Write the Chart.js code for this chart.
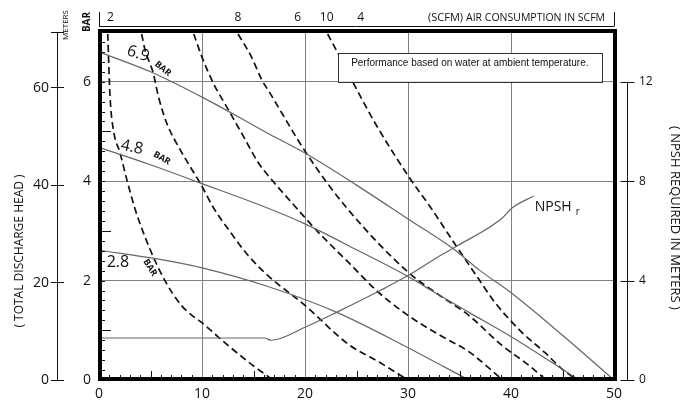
<!DOCTYPE html>
<html>
<head>
<meta charset="utf-8">
<script src="https://cdn.jsdelivr.net/npm/chart.js@4.4.0/dist/chart.umd.min.js"></script>
<style>
  html, body { margin: 0; padding: 0; background: #fff; }
  canvas { display: block; }
</style>
</head>
<body>
<canvas id="pump-chart" width="694" height="403"></canvas>
<script>
// axis ticks
var flowTicks = [0, 10, 20, 30, 40, 50];
var barTicks = [0, 2, 4, 6];
var meterTicks = [0, 20, 40, 60];
var npshTicks = [0, 4, 8, 12];

// air consumption labels along the top, at these flow values
var airLabels = ["2", "8", "6", "10", "4"];
var airLabelFlow = [1.1, 13.5, 19.3, 22.1, 25.4];

// head curves (bar) at 6.9 / 4.8 / 2.8 bar inlet air
var head69X = [0, 5, 10.1, 16.6, 20.2, 25, 30, 34.4, 37, 40.1, 45, 50];
var head69Y = [6.6, 6.2, 5.68, 4.94, 4.54, 3.92, 3.24, 2.64, 2.2, 1.74, 0.9, 0];
var head48X = [0, 5, 9.6, 16.6, 20, 25, 30, 32.6, 36, 40.1, 46.6];
var head48Y = [4.68, 4.33, 3.98, 3.44, 3.14, 2.62, 2.08, 1.76, 1.35, 0.86, 0];
var head28X = [0, 5.8, 10.1, 16.4, 23.2, 30, 35.9];
var head28Y = [2.61, 2.43, 2.25, 1.88, 1.35, 0.65, 0];

// NPSH required (m)
var npshX = [0, 16.1, 16.7, 20, 23.2, 27.3, 30, 33.1, 34.8, 39.1, 40.1, 42.2];
var npshY = [1.69, 1.69, 1.6, 2.12, 2.75, 3.6, 4.2, 5.0, 5.4, 6.5, 6.92, 7.4];

// air consumption curves (dashed)
var airAX = [0.85, 1.07, 1.39, 2.04, 2.69, 3.5, 4.95, 6.4, 8.0, 10.3, 12.5, 14.9, 16.9];
var airAY = [6.96, 5.71, 5.04, 4.57, 4.04, 3.44, 2.63, 2.0, 1.5, 1.1, 0.7, 0.3, 0];
var airBX = [4.14, 4.47, 5.27, 5.76, 6.57, 7.86, 9.0, 9.8, 11.1, 12.56, 14.5, 16.4, 20.0, 24.2, 27.2, 30.0];
var airBY = [6.96, 6.64, 6.17, 5.71, 5.17, 4.64, 4.24, 3.97, 3.47, 3.03, 2.5, 2.1, 1.5, 0.72, 0.36, 0];
var airCX = [9.2, 9.97, 11.1, 12.55, 14.0, 15.47, 16.6, 19.0, 21.3, 24.2, 27.1, 30.0, 33.1, 35.9, 39.2];
var airCY = [6.96, 6.51, 5.97, 5.44, 4.91, 4.37, 4.07, 3.5, 2.97, 2.37, 1.77, 1.3, 0.9, 0.57, 0];
var airDX = [13.5, 14.8, 15.8, 16.6, 20.2, 23.9, 30.0, 32.6, 35.9, 39.1, 41.7, 43.4];
var airDY = [6.96, 6.5, 6.04, 5.77, 4.54, 3.5, 2.17, 1.77, 1.3, 0.7, 0.3, 0];
var airEX = [22.2, 23.1, 24.7, 26.8, 30.1, 32.1, 34.6, 36.8, 38.4, 41.0, 43.3, 44.9, 46.4];
var airEY = [6.96, 6.61, 5.97, 5.17, 4.08, 3.5, 2.72, 2.05, 1.57, 0.97, 0.55, 0.23, 0];

function pts(xs, ys) {
    return xs.map(function (x, i) { return { x: x, y: ys[i] }; });
}

var solidGrey = '#666';
var gridGrey = '#808080';

function solid(xs, ys, axis) {
    return { data: pts(xs, ys), yAxisID: axis || 'y', borderColor: solidGrey, borderWidth: 1.2 };
}
function dashed(xs, ys) {
    return { data: pts(xs, ys), yAxisID: 'y', borderColor: '#111', borderWidth: 1.7, borderDash: [7, 4] };
}

function text(c, str, x, y, font, align, rot) {
    c.save();
    c.translate(x, y);
    if (rot) c.rotate(rot * Math.PI / 180);
    c.font = font;
    c.fillStyle = '#111';
    c.textAlign = align || 'center';
    c.textBaseline = 'middle';
    c.fillText(str, 0, 0);
    c.restore();
}

var decor = {
    id: 'decor',
    afterDatasetsDraw: function (chart) {
        var c = chart.ctx, a = chart.chartArea, s = chart.scales;
        var px = function (v) { return s.x.getPixelForValue(v); };
        var py = function (v) { return s.y.getPixelForValue(v); };

        // note box (covers curves and grid)
        var bl = px(23.2), br = px(48.8), bt = py(6.58), bb = py(6.0);
        c.save();
        c.fillStyle = '#fff';
        c.fillRect(bl, bt, br - bl, bb - bt);
        c.strokeStyle = '#333';
        c.lineWidth = 1;
        c.strokeRect(Math.round(bl) + 0.5, Math.round(bt) + 0.5, Math.round(br - bl), Math.round(bb - bt));
        c.restore();
        text(c, 'Performance based on water at ambient temperature.', (bl + br) / 2, bt + 10,
            '10px "Liberation Sans"', 'center');

        c.save();
        c.strokeStyle = '#111';
        c.lineWidth = 1;
        // minor ticks along left and bottom border
        c.beginPath();
        for (var i = 1; i < 35; i++) {
            var yy = Math.round(py(i * 0.2)) + 0.5;
            var len = (i % 10 === 5) ? 12 : 6;
            c.moveTo(a.left, yy); c.lineTo(a.left + len, yy);
        }
        for (var j = 1; j < 50; j++) {
            if (j % 10 === 0) continue;
            var xx = Math.round(px(j)) + 0.5;
            var h = (j % 10 === 5) ? 9 : 5;
            c.moveTo(xx, a.bottom); c.lineTo(xx, a.bottom - h);
        }
        c.stroke();

        // meters axis line
        var mx = s.ym.right - 6.5;
        c.beginPath();
        c.moveTo(mx, a.top); c.lineTo(mx, a.bottom);
        c.stroke();

        // NPSH axis line and ticks
        var nx = a.right + 13.5;
        c.beginPath();
        c.moveTo(nx, s.y2.getPixelForValue(12)); c.lineTo(nx, a.bottom);
        npshTicks.forEach(function (v) {
            var ty = Math.round(s.y2.getPixelForValue(v)) + 0.5;
            c.moveTo(nx - 7, ty); c.lineTo(nx + 7, ty);
        });
        c.stroke();

        // top air-consumption axis
        c.beginPath();
        c.moveTo(a.left, 26.5); c.lineTo(a.right, 26.5);
        c.moveTo(a.left + 0.5, 12); c.lineTo(a.left + 0.5, 26.5);
        c.moveTo(a.right + 0.5, 12); c.lineTo(a.right + 0.5, 26.5);
        c.stroke();

        // heavy frame
        c.lineWidth = 4;
        c.strokeStyle = '#000';
        c.strokeRect(a.left + 1, a.top - 1, a.right - a.left, a.bottom - a.top);
        c.restore();

        airLabels.forEach(function (t, k) {
            text(c, t, px(airLabelFlow[k]), 18, '12px "Open Sans"', 'center');
        });
        text(c, '(SCFM)', 428, 18, '11px "Open Sans"', 'left');
        text(c, 'AIR CONSUMPTION IN SCFM', 605, 18, '10.5px "Open Sans"', 'right');

        // side labels
        text(c, 'BAR', 87, 22, 'bold 10px "Open Sans"', 'center', -90);
        text(c, 'METERS', 66, 25, '8px "Open Sans"', 'center', -90);
        text(c, '( TOTAL DISCHARGE HEAD )', 20, 251, '12px "Open Sans"', 'center', -90);
        text(c, '( NPSH REQUIRED IN METERS )', 675, 218, '13px "Open Sans"', 'center', 90);

        // curve labels
        text(c, '6.9', px(3.8), py(6.56), '16px "Open Sans"', 'center', 18);
        text(c, 'BAR', px(6.2), py(6.26), 'bold 9px "Open Sans"', 'center', 40);
        text(c, '4.8', px(3.2), py(4.68), '16px "Open Sans"', 'center', 12);
        text(c, 'BAR', px(6.1), py(4.46), 'bold 9px "Open Sans"', 'center', 30);
        text(c, '2.8', px(1.84), py(2.36), '16px "Open Sans"', 'center', 0);
        text(c, 'BAR', px(4.95), py(2.26), 'bold 9px "Open Sans"', 'center', 58);
        var ny = s.y2.getPixelForValue(6.96);
        text(c, 'NPSH', px(42.3), ny, '14px "Open Sans"', 'left');
        text(c, 'r', px(42.3) + 41, ny + 5, '10px "Open Sans"', 'left');
    }
};

function gridAt(list) {
    return function (ctx) {
        return (ctx.tick && list.indexOf(ctx.tick.value) >= 0) ? gridGrey : 'rgba(0,0,0,0)';
    };
}

var tickFont = { family: 'Open Sans', size: 14 };

new Chart(document.getElementById('pump-chart'), {
    type: 'line',
    data: {
        datasets: [
            solid(head69X, head69Y),
            solid(head48X, head48Y),
            solid(head28X, head28Y),
            solid(npshX, npshY, 'y2'),
            dashed(airAX, airAY),
            dashed(airBX, airBY),
            dashed(airCX, airCY),
            dashed(airDX, airDY),
            dashed(airEX, airEY)
        ]
    },
    options: {
        responsive: false,
        animation: false,
        layout: { padding: { top: 32, left: 0, right: 0, bottom: 0 }, autoPadding: false },
        elements: {
            point: { radius: 0 },
            line: { cubicInterpolationMode: 'monotone', fill: false }
        },
        plugins: { legend: { display: false }, tooltip: { enabled: false } },
        scales: {
            x: {
                type: 'linear', min: 0, max: 50,
                afterBuildTicks: function (sc) { sc.ticks = flowTicks.map(function (v) { return { value: v }; }); },
                afterFit: function (sc) { sc.height = 23; },
                grid: { color: gridAt([10, 20, 30, 40]), drawTicks: false, lineWidth: 1 },
                border: { display: false },
                ticks: { font: tickFont, color: '#111', padding: 6, maxRotation: 0 }
            },
            ym: {
                type: 'linear', position: 'left', weight: 1, min: 0, max: 71.4,
                afterBuildTicks: function (sc) {
                    sc.ticks = meterTicks.concat([71.4]).map(function (v) { return { value: v }; });
                },
                afterFit: function (sc) { sc.width = 64; },
                grid: { drawOnChartArea: false, tickLength: 13, tickColor: '#111', color: '#111' },
                border: { display: false },
                ticks: {
                    font: tickFont, color: '#111', padding: 2,
                    callback: function (v) { return meterTicks.indexOf(v) >= 0 ? v : ''; }
                }
            },
            y: {
                type: 'linear', position: 'left', weight: 0, min: 0, max: 7,
                afterBuildTicks: function (sc) {
                    sc.ticks = barTicks.concat([7]).map(function (v) { return { value: v }; });
                },
                afterFit: function (sc) { sc.width = 35; },
                grid: { color: gridAt([2, 4, 6]), drawTicks: false },
                border: { display: false },
                ticks: {
                    font: tickFont, color: '#111', padding: 8,
                    callback: function (v) { return barTicks.indexOf(v) >= 0 ? v : ''; }
                }
            },
            y2: {
                type: 'linear', position: 'right', min: 0, max: 14,
                afterBuildTicks: function (sc) {
                    sc.ticks = npshTicks.map(function (v) { return { value: v }; });
                },
                afterFit: function (sc) { sc.width = 80; },
                grid: { drawOnChartArea: false, drawTicks: true, tickLength: 24, tickColor: 'rgba(0,0,0,0)' },
                border: { display: false },
                ticks: { font: { family: 'Open Sans', size: 12 }, color: '#111', padding: 1 }
            }
        }
    },
    plugins: [decor]
});
</script>
</body>
</html>
